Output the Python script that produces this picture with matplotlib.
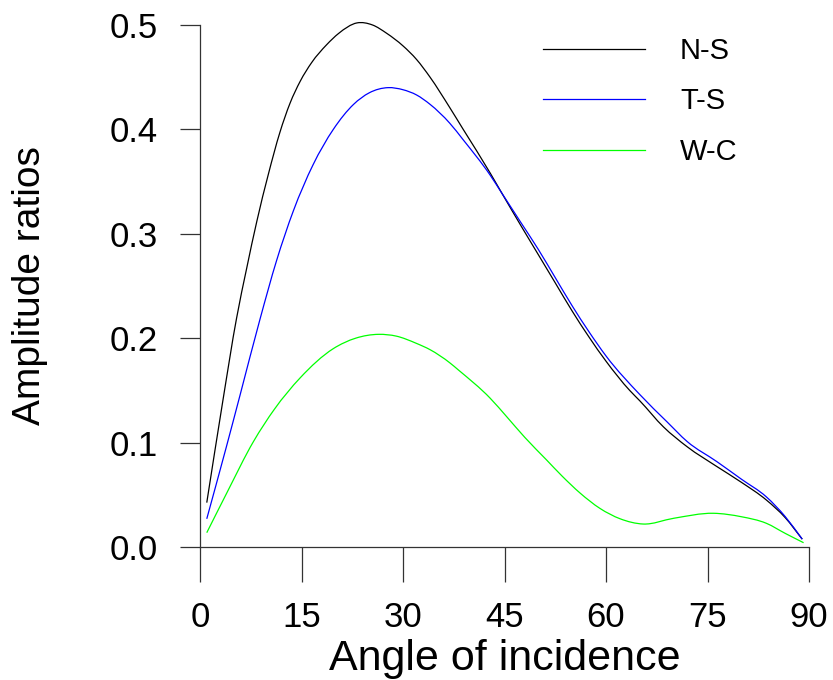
import matplotlib
matplotlib.use("Agg")
import matplotlib.pyplot as plt
import numpy as np
from matplotlib.path import Path
from matplotlib.patches import PathPatch

plt.rcParams["font.family"] = ["Liberation Sans", "DejaVu Sans"]

# Amplitude ratios versus angle of incidence (degrees)
ns_angle = [1, 3.4, 5.4, 6.9, 8.4, 10.1, 11.8, 13.3, 14.8, 16.5, 18.7, 20.5, 23.2,
            25.5, 27.6, 30, 32, 34, 36.9, 38.9, 42.9, 44.6, 47.5, 50, 52.5, 55,
            57.5, 60, 63.5, 65, 68.5, 72, 76.4, 80, 83.7, 86.5, 89]
ns_ratio = [0.0425, 0.141, 0.219, 0.267, 0.312, 0.357, 0.397, 0.425, 0.446, 0.464,
            0.481, 0.492, 0.502, 0.500, 0.492, 0.480, 0.467, 0.450, 0.421, 0.400,
            0.358, 0.339, 0.307, 0.280, 0.253, 0.226, 0.201, 0.178, 0.150, 0.140,
            0.115, 0.096, 0.077, 0.062, 0.045, 0.028, 0.0075]

ts_angle = [1, 3.9, 5.9, 8.9, 11.3, 13.8, 16.7, 19.7, 22.7, 25, 27.8, 30, 32,
            34, 36.9, 38.9, 42.9, 44.6, 47.5, 50, 52.5, 55, 57.5, 60, 65, 69, 72,
            76.4, 80, 83.7, 86.5, 89]
ts_ratio = [0.027, 0.096, 0.145, 0.219, 0.274, 0.322, 0.366, 0.400, 0.424,
            0.435, 0.440, 0.438, 0.433, 0.424, 0.406, 0.390, 0.356, 0.339, 0.310,
            0.285, 0.258, 0.231, 0.206, 0.183, 0.146, 0.120, 0.101, 0.0817, 0.065,
            0.048, 0.029, 0.0075]

wc_angle = [1, 3.9, 7.9, 11, 14.8, 19.7, 23, 26.4, 29, 32, 34, 36.9, 38.2, 42.9,
            45.3, 48, 51.2, 53.5, 56.2, 59.1, 62.1, 65.5, 70, 75.9, 80, 83.7,
            86.5, 89.2]
wc_ratio = [0.0137, 0.051, 0.101, 0.132, 0.162, 0.190, 0.200, 0.2037, 0.202,
            0.195, 0.189, 0.1765, 0.1695, 0.1424, 0.125, 0.105, 0.0835, 0.068,
            0.0515, 0.037, 0.027, 0.022, 0.0275, 0.0323, 0.029, 0.0227, 0.013,
            0.0041]

x_ticks = [0, 15, 30, 45, 60, 75, 90]
y_ticks = [0.0, 0.1, 0.2, 0.3, 0.4, 0.5]


def smooth_path(xs, ys):
    """Cubic Hermite curve through every point, expressed as Bezier segments."""
    x = np.asarray(xs, float)
    y = np.asarray(ys, float)
    n = len(x)
    m = np.empty(n)
    d = np.diff(y) / np.diff(x)
    m[0], m[-1] = d[0], d[-1]
    for i in range(1, n - 1):
        h0, h1 = x[i] - x[i - 1], x[i + 1] - x[i]
        m[i] = (d[i - 1] * h1 + d[i] * h0) / (h0 + h1)
    verts = [(x[0], y[0])]
    codes = [Path.MOVETO]
    for i in range(n - 1):
        h = x[i + 1] - x[i]
        verts += [(x[i] + h / 3, y[i] + m[i] * h / 3),
                  (x[i + 1] - h / 3, y[i + 1] - m[i + 1] * h / 3),
                  (x[i + 1], y[i + 1])]
        codes += [Path.CURVE4] * 3
    return Path(verts, codes)


fig = plt.figure(figsize=(8.33, 6.8), dpi=100)
ax = fig.add_axes([200 / 833, 1 - 547 / 680, 609 / 833, 522 / 680])

series = [(ns_angle, ns_ratio, "black", "N-S"),
          (ts_angle, ts_ratio, "#0000ff", "T-S"),
          (wc_angle, wc_ratio, "#00ff00", "W-C")]
handles = []
for xs, ys, col, name in series:
    ax.add_patch(PathPatch(smooth_path(xs, ys), facecolor="none", edgecolor=col,
                           lw=0.9, clip_on=False))
    handles.append(plt.Line2D([], [], color=col, lw=0.9, label=name))

ax.set_xlim(0, 90)
ax.set_ylim(0, 0.5)
ax.set_xticks(x_ticks)
ax.set_yticks(y_ticks)
ax.set_yticklabels([f"{v:.1f}" for v in y_ticks])

for side in ("top", "right"):
    ax.spines[side].set_visible(False)
for side in ("left", "bottom"):
    ax.spines[side].set_color("#333333")
    ax.spines[side].set_linewidth(0.9)

ax.tick_params(axis="x", direction="out", length=25, width=0.9, color="#333333",
               labelsize=25, pad=14)
ax.tick_params(axis="y", direction="out", length=14.4, width=0.9, color="#333333",
               labelsize=25, pad=16)

ax.set_xlabel("Angle of incidence", fontsize=31, labelpad=3.5)
ax.set_ylabel("Amplitude ratios", fontsize=28, labelpad=44)

ax.legend(handles=handles, loc="upper left", bbox_to_anchor=(343 / 609, 0.977),
          frameon=False, fontsize=21, handlelength=3.5, handletextpad=1.2,
          labelspacing=0.77, borderpad=0, borderaxespad=0)

fig.savefig("out.png", dpi=100)
